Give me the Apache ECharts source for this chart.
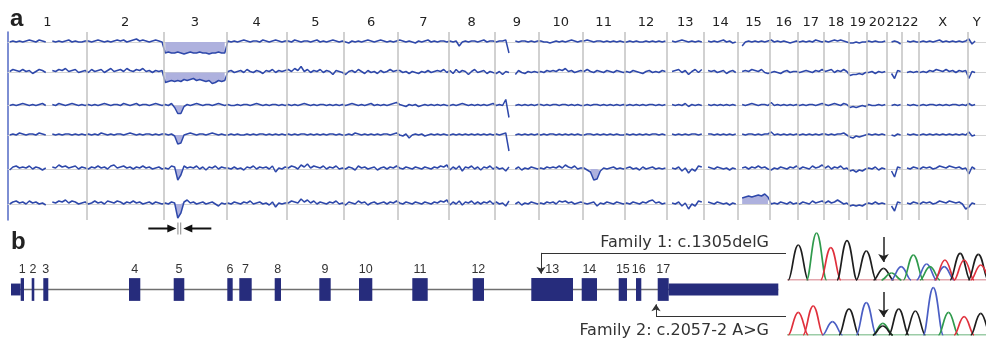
<!DOCTYPE html>
<html>
<head>
<meta charset="utf-8">
<script src="https://cdn.jsdelivr.net/npm/echarts@6/dist/echarts.min.js"></script>
<style>
  html, body { margin: 0; padding: 0; background: #fff; }
  #chart { width: 986px; height: 339px; }
</style>
</head>
<body>
<div id="chart"></div>
<script>
// chromosomes (Mb)
const chromNames = ['1','2','3','4','5','6','7','8','9','10','11','12','13','14','15','16','17','18','19','20','21','22','X','Y'];
const chromLengths = [249,243,198,191,181,171,159,146,141,136,135,133,115,107,102,90,81,78,59,63,48,51,155,59];

// log2 ratio per sample, one sub-array per chromosome (null = no probes)
const row1 = [
  [0,0.1,0,0.1,0,0.1,0.2,0.1,0,0.2,0.1,0,null,0.1,0,0.1,0,0.1,0.2,0,0.1,0,0,0.1],
  [0.1,0,0.1,0.2,0.1,0,0.1,0,0.1,0.2,0.1,0.2,0,0.1,0.2,0.3,0.1,0.2,0.1,0,0.1,0.2,0.1,0],
  [-1.1,-1.0,-1.1,-1.1,-1.0,-1.1,-1.2,-1.1,-1.0,-1.1,-1.1,-1.0,-1.1,-1.1,-1.2,-1.1,-1.1,-1.0,-1.1,-1.1],
  [0.1,0,0.1,0,0.1,0.2,0.1,0,0.1,0.1,0,0.2,0.1,0,0.1,0.2,0.1,0,0.1],
  [0.1,0,0.2,0.1,0,0.1,0.1,0,0.1,0.2,0,0.1,0,0.1,0.2,0.1,0,0.1],
  [0,-0.1,0.1,0,0.1,0,0.1,0.2,0.1,0,0.1,0.2,0.1,0,0.1,0,0.1],
  [0.2,0.1,0,0.1,0,-0.1,0.1,0,0.1,0.2,0,0.1,0,0.1,0.1,0],
  [0.1,0,0.1,-0.4,0,0.1,0,0.1,0.1,0,0.1,0.2,0,0.1,0.1],
  [0,0.1,0.1,0.2,-1.1,null,0.1,0,0.1,0.1,0,0.1,0,0.1],
  [0.1,0,0,-0.1,0,0.1,0,0.1,0,0.1,0.2,0.1,0,0.1],
  [0.1,0.2,0.1,0,0.1,0.1,0,0.1,0,0.1,0,0.1,0],
  [0,0.1,0,0.1,0,0,0.1,0,0.1,0,0.1,0,0.1],
  [null,0.1,0,0.1,0.2,0.1,0,0.1,0,0.1,0],
  [null,0.1,0,0.1,0,0.1,0.2,0,0.1,-0.1,0],
  [null,-0.4,0,0.1,0,0.1,0,0.1,0,0.1],
  [0.2,0,0.1,0,0.1,0,-0.1,0,0.1],
  [0,0.1,0,0.1,0,0.2,0.1,0],
  [0.1,0,0.1,0.2,0.1,0.2,0.1,0],
  [-0.1,-0.1,0,-0.1,0,0],
  [0.1,0,0.1,0,0,0.1],
  [null,0,0.1,0,-0.2],
  [null,0.1,0,0.1,0],
  [0,0.1,0,0.1,0,0.1,0.2,0,0.1,0,0.1,0,0.1,0,0.1],
  [0.3,-0.2,0.1,null,null,null]
];
const row2 = [
  [0.1,0.3,0.2,0.1,0.3,0.1,0.2,-0.1,0.1,0.3,0.2,0,null,0.2,0.1,0.3,0.2,0.4,0.1,0.2,0.3,0,0.1,0.2],
  [0,0.3,0.1,0.2,0.3,0,0.2,0.4,0.1,0.2,0.3,0.1,0.4,0.2,0.1,0.3,0.2,0.4,0.1,0.2,0,0.2,0.1,0.2],
  [-1.0,-0.9,-0.8,-0.9,-0.8,-0.9,-0.7,-0.8,-0.7,-0.6,-0.8,-0.7,-0.8,-0.9,-0.8,-1.1,-1.0,-0.8,-0.9,-0.8],
  [0.1,0.2,0,0.1,0.2,0,0.3,0.1,0,0.2,0.1,-0.1,0.2,0.1,0.3,0,0.2,0.1,0.2],
  [0.3,0.1,0.4,0.2,0.6,0.1,0.3,0,0.2,0.1,0.3,0,0.2,0.1,-0.2,0.2,0.1,0],
  [-0.2,0.1,0.2,0,0.3,0.1,-0.1,0.2,0,0.1,-0.1,0.2,0,0.1,0.3,0.1,0.2],
  [0.2,0,0.1,-0.1,0.1,0,-0.1,0.1,0,0.2,0,0.1,0.2,0.1,0.3,0],
  [0.2,-0.1,0.3,0,0.2,0.1,-0.2,0.1,0.3,0,0.1,0.2,-0.1,0.1,0],
  [-0.1,0.1,-0.2,0.1,0,null,-0.2,0.2,0,-0.1,0.1,0,0.1,0],
  [0.1,0,0.2,0.1,0.2,0.1,0.3,0.2,0.4,0.1,0.2,0,0.1,0.2],
  [0.1,0.3,0.1,0,0.2,0.1,0,0.2,0.1,0,0.2,0.1,0],
  [0.1,0,0.2,0.1,0,-0.1,0.1,0.2,0,0.1,0,0.2,0.1],
  [null,0.1,0.2,0.3,0,0.2,-0.2,0.1,0.3,0,0.3],
  [null,0.2,0.1,0.2,0,0.1,0.2,-0.1,0.1,0.2,0],
  [null,0.1,0.2,0.1,0.3,0.2,0.1,0.3,0,-0.1],
  [0,0.1,0,-0.1,0.1,0.2,0,0.1,0.1],
  [0,0.1,0.2,0.1,0,0.2,0.1,0.3],
  [0.1,0.2,0.3,0,0.2,0.1,0.3,0.1],
  [-0.3,-0.2,-0.2,-0.1,-0.2,0],
  [0,0.1,-0.1,0.1,0,0.1],
  [null,-0.1,-0.6,0.2,0.1],
  [null,0,0.1,0,0.1],
  [0,0.1,0,0.2,0.1,0.3,0.2,0.1,0.3,0.1,0.2,0,0.2,0.1,0.2],
  [-0.6,0.1,0,null,null,null]
];
const row3 = [
  [0,0.1,0,0.1,0.2,0.1,0,0.1,0,0.1,0.2,0,null,0.1,0,0.2,0.1,0,0.1,0.2,0.1,0,0.1,0],
  [0.1,0,0.1,0,0.1,0.2,0.1,0,0.1,0.1,0,0.2,0.1,0,0.1,0.2,0,0.1,0.1,0,0.1,0.2,0.1,0],
  [0.1,0,0.2,-0.2,-0.8,-0.8,-0.1,0.1,0,0.1,0.2,0.1,0,0.1,0.1,0,0.1,0.2,0.1,0],
  [0.1,0,0,0.1,0,0.1,0.1,0,0.1,0.2,0.1,0,0.1,0,0.1,0.1,0,0.1,0],
  [0.1,0,0.1,0,0.1,0.2,0.1,0,0.1,0,0.1,0.1,0,0.1,0,0.1,0,0.1],
  [0,0.1,0.2,0.1,0,0.1,0,0.1,0.2,0,0.1,0,0.1,0,0.1,0.2,0.3],
  [0.1,0,-0.1,0.1,0,0.1,-0.1,0,0.1,0,0.1,0,0.1,0,0.1,0],
  [0,0.1,0,0.1,0.2,0.1,0,0.1,0,0.1,0,0.1,0,0.1,0.2],
  [0,0.1,0,0.6,-1.2,null,0,0.1,0,0.1,0,0.1,0,0.1],
  [0.1,0,0.1,0,0.1,0.1,0,0.1,0.1,0,0.1,0,0.1,0],
  [0,0.1,0,0.1,0.1,0,0.1,0,0.1,0,0.1,0,0.1],
  [0,0.1,0,0.1,0,0.1,0,0.1,0.1,0,0.1,0,0.1],
  [null,0.1,0,0.1,0,0.2,-0.1,0.1,0,0.1,0],
  [null,0.1,0,0.1,0,0.1,0,0.1,0,0.1,0],
  [null,0.1,0,0.1,0.2,0.1,0,0.1,0.1,0],
  [0.3,0,0.1,0,0.1,0,0.1,0,0.1],
  [0,0.1,0,0.1,0.1,0,0.1,0.2],
  [0.1,0,0.1,0.2,0.1,0,0.2,0.1],
  [-0.2,-0.1,-0.2,-0.1,0,-0.1],
  [0.1,0,0,0.1,0,0.1],
  [null,0,0.1,0,0.1],
  [null,0.1,0,0.1,0],
  [0,0.1,0,0.1,0.1,0,0.1,0,0.1,0,0.1,0.1,0,0.1,0],
  [0.2,0,0.1,null,null,null]
];
const row4 = [
  [0,0.1,0,0.2,0.1,0,0.1,0.1,0,0.2,0.1,0,null,0.1,0,0.1,0,0.1,0.1,0,0.1,0,0.1,0],
  [0.1,0,0.1,0,0.2,0.1,0,0.1,0,0.1,0.1,0,0.1,0.2,0.1,0,0.1,0,0.1,0.1,0,0.1,0,0.1],
  [0.1,0,0.1,-0.1,-0.9,-0.8,0,0.1,0.2,0.1,0,0.1,0.1,0,0.1,0.2,0.1,0,0.1,0],
  [0,0.1,0,0.1,0,0,0.1,0,0.1,0,0.1,0.1,0,0.1,0,0.1,0,0.1,0],
  [0.1,0,0.1,0,0.1,0.1,0,0.1,0,0.1,0,0.1,0,0.1,0.1,0,0.1,0],
  [0,0.1,0,0.2,0.1,0,0.1,0,0.1,0,0.1,0,0.1,0.1,0,0.1,0.2],
  [0,-0.1,0.1,-0.3,0,0.1,0,0.1,-0.1,0,0.1,0,0.1,0,0.1,0],
  [0,0.1,0,0.1,0,0.1,0,0.1,0,0.1,0,0.1,0,0.1,0],
  [0.1,0,0.1,0.2,-1.6,null,0,0.1,0,0.1,0,0.1,0,0.1],
  [0,0.1,0,0.1,0.1,0,0.1,0,0.1,0,0.1,0,0.1,0],
  [0,0.1,0.1,0,0.1,0,0.1,0,0.1,0,0.1,0,0],
  [0.1,0,0.1,0,0.1,0,0.1,0,0.1,0.1,0,0.1,0],
  [null,0.1,0,0.1,0,0.1,0,0.1,0.1,0,0.1],
  [null,0.1,0.1,0,0.1,0,0.1,0,0.1,0,0.1],
  [null,0.1,0,0.1,0.1,0,0.1,0,0.1,0.1],
  [0.3,0,0.1,0,0.1,0,0.1,0,0.1],
  [0,0.1,0,0.1,0,0.1,0,0.1],
  [0.1,0,0.1,0,0.1,0.1,0.2,0],
  [-0.2,-0.3,-0.1,-0.2,-0.1,0],
  [0.1,0,0.1,0,0.1,0],
  [null,0,-0.1,0.1,0],
  [null,0.1,0,0.1,0],
  [0,0.1,0,0.1,0,0.1,0,0.1,0,0.1,0,0.1,0,0.1,0],
  [0.3,-0.1,0,null,null,null]
];
const row5 = [
  [-0.1,0.2,0.3,0.1,0.2,0.1,0.3,0,0.2,0.1,-0.1,0.1,null,0.2,0.1,0.4,0.2,0.3,0.1,0.2,0.3,0,0.2,0.1],
  [0,0.2,0.1,0.3,0.1,0.2,0,0.3,0.4,0.1,0.2,0.3,0.1,0.2,0,0.2,0.1,0.3,0.1,0.2,0,0.1,0.2,0],
  [0.1,0,0.3,0.2,-1.1,-0.6,0.3,0.1,0.2,0.1,0.3,0,0.2,-0.1,0.2,0.1,0.3,0,0.2,0.1],
  [0.1,0,0.2,0,0.1,-0.1,0.2,0.1,0.3,0,0.2,0.1,0.2,0,0.3,-0.3,0.1,0,0.2],
  [0.1,0.3,0.2,0,0.4,0.2,0.5,0.1,0.3,0.2,0.1,0.3,0,0.2,0.1,0.3,0,0.1],
  [0,0.2,0.1,-0.1,0.3,0.1,0.2,0,0.1,0.2,-0.1,0.1,0.2,0,0.2,0.1,0.3],
  [0.1,0,0.2,0.1,0,0.2,0.1,0,0.2,0.1,0,0.2,0.1,0.3,0.2,0.4],
  [-0.1,0.2,0,0.3,-0.2,0.2,0.1,0.3,0,0.2,-0.1,0.2,0.1,0.3,0],
  [0.2,0,0.1,-0.2,0.2,null,0,0.2,-0.1,0.1,0,0.2,0.1,0],
  [0.1,0,0.2,0.1,0.2,0.1,0.3,0.1,0.4,0.2,0.1,0.3,0,0.1],
  [0.1,-0.1,-0.3,-1.1,-1.0,-0.2,0.1,0,0.1,0.2,0,0.1,0],
  [0.1,0.2,0,0.1,-0.1,0.2,0,0.1,0.2,0,0.1,0,0.1],
  [null,0.1,0,0.2,-0.2,0.1,-0.4,0,-0.2,0.3,0.2],
  [null,0.2,0.1,0,0.2,0.1,0,0.1,-0.1,0.1,0],
  [null,0.1,0.2,0,0.2,0.1,0.3,0.1,0.2,0],
  [-0.1,0.1,0,0.2,0.1,0,0.2,0.1,0.3],
  [0,0.2,0.1,0,0.3,0.1,0.2,0.4],
  [0.1,0.3,0,0.2,0.1,0.3,0,0.1],
  [-0.2,-0.1,-0.3,-0.1,-0.2,0],
  [0.1,0,0.2,-0.1,0.1,0],
  [null,-0.2,-0.8,0.2,0.1],
  [null,0.1,0,0.2,0.1],
  [0,0.2,0.1,0.2,0,0.1,0.3,0.2,0.1,0.3,0.2,0.1,0.2,0,0.1],
  [-0.5,0.2,0,null,null,null]
];
const row6 = [
  [0,0.2,0.3,0.1,0.2,0,0.3,0.1,0.2,0,0.1,-0.1,null,0.2,0.1,0.3,0.2,0.4,0.1,0.3,0.2,0,0.1,0.2],
  [0,0.1,0.3,0.1,0.2,0,0.3,0.2,0.1,0.3,0.2,0,0.2,0.1,0.3,0.1,0.2,0,0.1,0.2,0,0.2,0.1,0],
  [0.1,0,0.2,0.1,-1.4,-0.9,0.2,0.4,0.1,0.2,0,0.1,0.2,0,0.1,0.2,0,-0.2,0.1,0],
  [0.1,0,0.2,0.1,0,0.2,0.1,0.3,0,0.1,0.2,0,0.1,-0.1,0.2,-0.3,0.1,0,0.1],
  [0.1,0.3,0.2,0.1,0.5,0.2,0.4,0.1,0.3,0,0.2,0.1,0,0.2,0.1,0.3,0,0.1],
  [-0.1,0.2,0.1,0,0.3,0.1,0.2,-0.1,0.1,0.2,0,0.1,0.2,0,0.2,0.1,0.3],
  [0.1,0,0.2,0.1,0,0.2,0.1,0,0.2,0.1,0,0.2,0.1,0.3,0.2,0.4],
  [-0.1,0.2,0,0.3,-0.1,0.2,0.1,0.3,0,0.2,0,0.2,0.1,0.3,0],
  [0.2,0,0.1,-0.2,0.3,null,0,0.2,-0.1,0.1,0,0.2,0.1,0],
  [0.1,0,0.2,0.1,0.2,0,0.3,0.2,0.3,0.1,0.2,0,0.1,0.2],
  [0.1,0,0.1,0.2,-0.2,0.1,0,0.2,0.1,0,0.2,0.1,0],
  [0.1,0,0.2,0.1,0,0.2,0.1,0.3,0.4,0.1,0.2,0,0.1],
  [null,0.1,0,0.2,-0.2,0.1,-0.5,0,-0.2,0.3,0.2],
  [null,0.2,0.1,0,0.2,0.1,0,0.1,-0.1,0.1,0],
  [null,0.6,0.7,0.8,0.7,0.8,0.9,0.8,1.0,0.7],
  [0,0.1,0,0.2,0.1,0,0.2,0,0.1],
  [0,0.2,0.1,0,0.3,0.1,0.2,0.3],
  [0.1,0.3,0.1,0.2,0.4,0.2,0,0.1],
  [-0.2,-0.1,-0.2,-0.1,-0.2,0],
  [0.1,0,0.2,0,0.1,0],
  [null,-0.2,-0.7,0.2,0.1],
  [null,0.1,0,0.2,0.1],
  [0,0.2,0.1,0.2,0,0.1,0.3,0.2,0.1,0.3,0.2,0.1,0.2,0,-0.5],
  [-0.3,0.1,0,null,null,null]
];
const rows = [row1, row2, row3, row4, row5, row6];
// shaded calls: [chromosome index, first point, last point]
const calledRegions = [
  [[2,0,19]],
  [[2,0,19]],
  [[2,3,6]],
  [[2,3,6]],
  [[2,3,6],[10,2,5]],
  [[2,3,6],[14,1,9]]
];
const focalDeletion = { chrom: 2, pos: 49.5 };

// gene model (relative gene coordinate)
const exonNames = ['1','2','3','4','5','6','7','8','9','10','11','12','13','14','15','16','17'];
const exonStart = [20.7,31.7,43.3,129,173.7,227.3,239.3,274.7,319.3,359,412.3,472.7,531.3,581.7,618.7,636,657.7];
const exonEnd   = [24,34.3,48.3,140.3,184.3,232.7,251.7,281,330.7,372.3,427.7,484,573,597,627,641.3,668.7];
const utrStart = [11, 668.7];
const utrEnd   = [20.7, 778.3];
const mutationLabels = ['Family 1: c.1305delG', 'Family 2: c.2057-2 A>G'];
const mutationPos = [541, 656];

// chromatogram peaks (position, height, base)
const topPeakPos    = [11.3,29.7,44,60.3,79.7,97,105,114.7,127,140.3,143.7,158,158.7,174,178,192.3,194.7];
const topPeakHeight = [35,47,32.3,39.3,29,11.7,7,13.3,25,16,13.3,13.3,20,26.7,20,25.7,15];
const topPeakBase   = ['G','A','T','G','G','G','A','C','A','C','A','C','T','G','T','G','T'];
const botPeakPos    = [11.3,26.3,45.7,62.3,79.7,96.3,96.3,112.3,129,147,162.3,178,194.7];
const botPeakHeight = [22.7,29,13.3,26,32.3,11.7,9,26,24,47.3,22.7,18.3,21.7];
const botPeakBase   = ['T','T','C','G','C','A','G','G','G','C','A','T','G'];
const mutantBasePos = 97;

const baseColors = { A: '#2f9a4c', C: '#4a5ec4', G: '#1e1e1e', T: '#e0303c' };

const chart = echarts.init(document.getElementById('chart'), null, { renderer: 'canvas' });

const chromStarts = [];
let genomeLength = 0;
chromLengths.forEach(l => { chromStarts.push(genomeLength); genomeLength += l; });
const chromMids = chromLengths.map((l, i) => chromStarts[i] + l / 2);

const pxPerMb = 0.3195;
const plotW = genomeLength * pxPerMb;
const plotLeft = 8;
const rowBaselines = [42, 72.5, 105.5, 135, 169, 204];

function pointX(c, k, n) {
  return chromStarts[c] + (k + 0.5) * chromLengths[c] / n;
}
function rowPoints(row) {
  const pts = [];
  row.forEach((vals, c) => {
    vals.forEach((v, k) => pts.push([pointX(c, k, vals.length), v === null ? '-' : v]));
  });
  return pts;
}
function calledPoints(row, regions) {
  const pts = [];
  regions.forEach(([c, k0, k1], r) => {
    if (r > 0) pts.push([pointX(c, k0, row[c].length), '-']);
    for (let k = k0; k <= k1; k++) pts.push([pointX(c, k, row[c].length), row[c][k]]);
  });
  return pts;
}

const traceColor = '#2e48aa';
const grids = [{ left: plotLeft, top: 32, width: plotW, height: 188 }];
const xAxes = [{
  gridIndex: 0, type: 'value', min: 0, max: genomeLength, position: 'top',
  axisLine: { show: false }, axisTick: { show: false }, splitLine: { show: false },
  axisLabel: {
    customValues: chromMids, margin: 3, color: '#222', fontSize: 13, fontFamily: 'DejaVu Sans',
    formatter: v => {
      let best = 0;
      chromMids.forEach((m, i) => { if (Math.abs(m - v) < Math.abs(chromMids[best] - v)) best = i; });
      return chromNames[best];
    }
  }
}];
const yAxes = [{
  gridIndex: 0, type: 'value', min: 0, max: 1,
  axisLine: { show: true, lineStyle: { color: '#5268c4', width: 1.5 } },
  axisTick: { show: false }, axisLabel: { show: false }, splitLine: { show: false }
}];
const series = [{
  type: 'line', xAxisIndex: 0, yAxisIndex: 0, data: [[0, 0]], showSymbol: false,
  lineStyle: { opacity: 0 }, silent: true, z: 1,
  markLine: {
    silent: true, symbol: 'none', animation: false, label: { show: false },
    lineStyle: { color: '#c2c2c2', width: 1.5, type: 'solid' },
    data: chromStarts.slice(1).map(v => ({ xAxis: v }))
  }
}];

rows.forEach((row, r) => {
  const gi = grids.length;
  grids.push({ left: plotLeft, top: rowBaselines[r] - 20, width: plotW, height: 40 });
  xAxes.push({
    gridIndex: gi, type: 'value', min: 0, max: genomeLength,
    axisLine: { show: true, onZero: true, lineStyle: { color: '#d4d4d4', width: 1 } },
    axisTick: { show: false }, axisLabel: { show: false }, splitLine: { show: false }
  });
  yAxes.push({ gridIndex: gi, type: 'value', min: -2, max: 2, show: false });
  series.push({
    type: 'line', xAxisIndex: gi, yAxisIndex: gi, data: calledPoints(row, calledRegions[r]),
    showSymbol: false, connectNulls: false, z: 3,
    lineStyle: { width: 0 },
    areaStyle: { color: '#aeb1de', opacity: 1 }
  });
  series.push({
    type: 'line', xAxisIndex: gi, yAxisIndex: gi, data: rowPoints(row),
    showSymbol: false, connectNulls: false, z: 4,
    lineStyle: { color: traceColor, width: 1.5 }
  });
});

// gene model grid
const geneGrid = grids.length;
grids.push({ left: 0, top: 240, width: 986, height: 100 });
xAxes.push({ gridIndex: geneGrid, type: 'value', min: 0, max: 986, show: false });
yAxes.push({ gridIndex: geneGrid, type: 'value', min: -50, max: 50, show: false });

series.push({
  type: 'line', xAxisIndex: geneGrid, yAxisIndex: geneGrid, showSymbol: false, z: 2,
  data: [[utrStart[0], 0], [utrEnd[utrEnd.length - 1], 0]],
  lineStyle: { color: '#6f6f6f', width: 1.5 }
});
series.push({
  type: 'custom', xAxisIndex: geneGrid, yAxisIndex: geneGrid, z: 3,
  data: utrStart.map((s, i) => [s, utrEnd[i]]),
  renderItem: (params, api) => {
    const a = api.coord([api.value(0), 6]);
    const b = api.coord([api.value(1), -6]);
    return { type: 'rect', shape: { x: a[0], y: a[1], width: b[0] - a[0], height: b[1] - a[1] }, style: { fill: '#262c7c' } };
  }
});
series.push({
  type: 'custom', xAxisIndex: geneGrid, yAxisIndex: geneGrid, z: 4,
  data: exonStart.map((s, i) => [s, exonEnd[i]]),
  renderItem: (params, api) => {
    const a = api.coord([api.value(0), 11.5]);
    const b = api.coord([api.value(1), -11.5]);
    return {
      type: 'group', children: [
        { type: 'rect', shape: { x: a[0], y: a[1], width: b[0] - a[0], height: b[1] - a[1] }, style: { fill: '#262c7c' } },
        { type: 'text', style: {
          text: exonNames[params.dataIndex], x: (a[0] + b[0]) / 2, y: a[1] - 9,
          align: 'center', verticalAlign: 'middle', fill: '#333',
          fontSize: 12.5, fontFamily: 'Liberation Sans'
        } }
      ]
    };
  }
});
// mutation callouts
const calloutEnd = 786;
const calloutLevels = [37, -27];
const calloutTips = [16, -15];
series.push({
  type: 'lines', coordinateSystem: 'cartesian2d', xAxisIndex: geneGrid, yAxisIndex: geneGrid,
  symbol: 'none', z: 5, silent: true,
  lineStyle: { color: '#333', width: 1, opacity: 1 },
  data: mutationPos.map((p, i) => ({ coords: [[calloutEnd, calloutLevels[i]], [p, calloutLevels[i]]] }))
});
series.push({
  type: 'lines', coordinateSystem: 'cartesian2d', xAxisIndex: geneGrid, yAxisIndex: geneGrid,
  symbol: ['none', 'arrow'], symbolSize: 7, z: 5, silent: true,
  lineStyle: { color: '#333', width: 1, opacity: 1 },
  data: mutationPos.map((p, i) => ({ coords: [[p, calloutLevels[i]], [p, calloutTips[i]]] }))
});

// chromatograms
function peakRender(bases) {
  return (params, api) => {
    const c = api.value(0), h = api.value(1), hw = 10;
    const p0 = api.coord([c - hw, 0]), p1 = api.coord([c, h]), p2 = api.coord([c + hw, 0]);
    const color = baseColors[bases[params.dataIndex]];
    const st = { stroke: color, fill: null, lineWidth: 1.7 };
    const dx = p1[0] - p0[0];
    return {
      type: 'group', children: [
        { type: 'bezierCurve', shape: { x1: p0[0], y1: p0[1], x2: p1[0], y2: p1[1], cpx1: p0[0] + dx * 0.35, cpy1: p0[1], cpx2: p1[0] - dx * 0.45, cpy2: p1[1] }, style: st },
        { type: 'bezierCurve', shape: { x1: p1[0], y1: p1[1], x2: p2[0], y2: p2[1], cpx1: p1[0] + dx * 0.45, cpy1: p1[1], cpx2: p2[0] - dx * 0.35, cpy2: p2[1] }, style: st }
      ]
    };
  };
}
const chromaTops = [230, 285];
const peakSets = [
  [topPeakPos, topPeakHeight, topPeakBase, '#c8505e'],
  [botPeakPos, botPeakHeight, botPeakBase, '#3a9a50']
];
peakSets.forEach(([pos, hts, bases, baseLineColor], i) => {
  const gi = grids.length;
  grids.push({ left: 787, top: chromaTops[i], width: 200, height: 50 });
  xAxes.push({ gridIndex: gi, type: 'value', min: 0, max: 200, show: false });
  yAxes.push({ gridIndex: gi, type: 'value', min: 0, max: 50, show: false });
  series.push({
    type: 'line', xAxisIndex: gi, yAxisIndex: gi, showSymbol: false, z: 2,
    data: [[0, 0], [200, 0]], lineStyle: { color: baseLineColor, width: 1.2 }
  });
  series.push({
    type: 'custom', xAxisIndex: gi, yAxisIndex: gi, z: 3, clip: false,
    data: pos.map((p, k) => [p, hts[k]]),
    renderItem: peakRender(bases)
  });
  series.push({
    type: 'lines', coordinateSystem: 'cartesian2d', xAxisIndex: gi, yAxisIndex: gi,
    symbol: ['none', 'arrow'], symbolSize: 8, z: 5, silent: true,
    lineStyle: { color: '#222', width: 1.5, opacity: 1 },
    data: [{ coords: [[mutantBasePos, 43], [mutantBasePos, 18]] }]
  });
});

chart.setOption({
  animation: false,
  backgroundColor: '#fff',
  grid: grids,
  xAxis: xAxes,
  yAxis: yAxes,
  series: series
});

// annotations; arrows mark the focal chr3 deletion
const fx = chart.convertToPixel({ xAxisIndex: 0 }, chromStarts[focalDeletion.chrom] + focalDeletion.pos);
const ay = 228.5;
const textStyle = { fontFamily: 'DejaVu Sans', fill: '#333' };
chart.setOption({
  graphic: [
    { type: 'text', style: { text: 'a', x: 10, y: 19, verticalAlign: 'middle', fontSize: 24, fontWeight: 'bold', fontFamily: 'Liberation Sans', fill: '#222' } },
    { type: 'text', style: { text: 'b', x: 11, y: 242, verticalAlign: 'middle', fontSize: 24, fontWeight: 'bold', fontFamily: 'Liberation Sans', fill: '#222' } },
    { type: 'text', style: Object.assign({ text: mutationLabels[0], x: 769, y: 243, align: 'right', verticalAlign: 'middle', fontSize: 16 }, textStyle) },
    { type: 'text', style: Object.assign({ text: mutationLabels[1], x: 769, y: 331, align: 'right', verticalAlign: 'middle', fontSize: 16 }, textStyle) },
    { type: 'line', shape: { x1: fx - 31, y1: ay, x2: fx - 10, y2: ay }, style: { stroke: '#111', lineWidth: 2 } },
    { type: 'polygon', shape: { points: [[fx - 3, ay], [fx - 12, ay - 4], [fx - 12, ay + 4]] }, style: { fill: '#111' } },
    { type: 'line', shape: { x1: fx + 32, y1: ay, x2: fx + 11, y2: ay }, style: { stroke: '#111', lineWidth: 2 } },
    { type: 'polygon', shape: { points: [[fx + 4, ay], [fx + 13, ay - 4], [fx + 13, ay + 4]] }, style: { fill: '#111' } },
    { type: 'line', shape: { x1: fx - 1.4, y1: ay - 6, x2: fx - 1.4, y2: ay + 6 }, style: { stroke: '#888', lineWidth: 1 } },
    { type: 'line', shape: { x1: fx + 1.4, y1: ay - 6, x2: fx + 1.4, y2: ay + 6 }, style: { stroke: '#888', lineWidth: 1 } }
  ]
});
</script>
</body>
</html>
